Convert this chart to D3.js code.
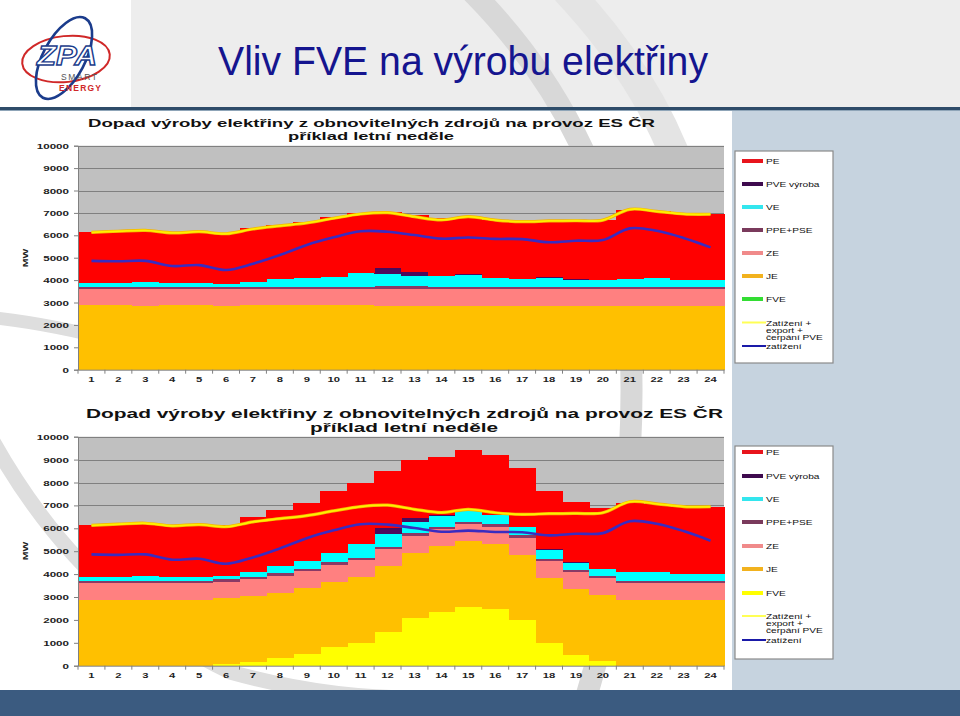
<!DOCTYPE html>
<html><head><meta charset="utf-8">
<script src="https://cdn.jsdelivr.net/npm/d3@7"></script>
<style>
body{margin:0;background:#fff}
svg{display:block}
text{font-family:"Liberation Sans",Arial,sans-serif}
</style>
</head><body>
<svg id="c" width="960" height="716"></svg>
<script>
// ---------------- data ----------------
const hours = [1,2,3,4,5,6,7,8,9,10,11,12,13,14,15,16,17,18,19,20,21,22,23,24];
const yTicks = [0,1000,2000,3000,4000,5000,6000,7000,8000,9000,10000];
const JE  = [2870,2870,2860,2870,2870,2860,2870,2870,2870,2870,2870,2860,2850,2850,2850,2850,2850,2850,2850,2850,2850,2850,2850,2850];
const ZE  = [730,740,740,730,740,740,740,740,740,740,740,750,750,750,750,740,740,740,740,740,740,740,740,740];
const PPE = [110,100,110,110,100,110,100,100,100,100,100,110,120,110,110,110,110,110,110,110,110,110,110,110];
const VE  = [150,160,190,150,160,130,200,320,370,410,590,560,470,470,520,390,370,380,310,290,370,400,320,290];
const PVE = [0,0,0,0,0,0,0,0,0,0,0,240,190,20,30,0,0,50,30,0,0,0,0,0];
const PE  = [2270,2290,2300,2260,2260,2250,2400,2430,2500,2710,2680,2500,2530,2560,2570,2610,2570,2510,2620,2680,3050,2970,2930,2940];
const FVE_top    = [0,0,0,0,0,0,0,0,0,0,0,0,0,0,0,0,0,0,0,0,0,0,0,0];
const FVE_bottom = [0,0,0,0,0,75,175,320,510,800,1000,1480,2070,2360,2580,2480,2000,980,480,220,0,0,0,0];
const zatizeniExport = [6130,6180,6220,6110,6160,6070,6280,6420,6550,6760,6950,7010,6830,6690,6830,6680,6610,6640,6650,6680,7160,7070,6950,6940];
const zatizeni       = [4860,4840,4860,4630,4670,4450,4730,5120,5570,5910,6180,6160,6010,5850,5900,5840,5830,5690,5760,5790,6310,6200,5880,5460];

const stackKeys   = ["FVE","JE","ZE","PPE","VE","PVE","PE"];
const legendKeys  = ["PE","PVE","VE","PPE","ZE","JE","FVE"];
const legendNames = {PE:"PE",PVE:"PVE výroba",VE:"VE",PPE:"PPE+PSE",ZE:"ZE",JE:"JE",FVE:"FVE"};
const lineNames   = [["Zatížení +","export +","čerpání PVE"],["zatížení"]];
const chartTitle1 = "Dopad výroby elektřiny z obnovitelných zdrojů na provoz ES ČR";
const chartTitle2 = "příklad letní neděle";
const pageTitle   = "Vliv FVE na výrobu elektřiny";

// ---------------- styles ----------------
const fillColors = {PE:"#FF0000",PVE:"#4B0A5C",VE:"#00FFFF",PPE:"#8A3A66",ZE:"#FF8080",JE:"#FFC000"};
const legendColors = {PE:"#E8141C",PVE:"#3E0A4E",VE:"#33E6EE",PPE:"#7A3A5C",ZE:"#F08A8A",JE:"#F2B21E"};

const svg = d3.select("#c");

function stretch(sel, f){
  sel.each(function(){
    const w = this.getComputedTextLength();
    d3.select(this).attr("textLength", w*f).attr("lengthAdjust","spacingAndGlyphs");
  });
}

// ---------------- background ----------------
svg.append("rect").attr("x",0).attr("y",0).attr("width",960).attr("height",716).attr("fill","#fff");
svg.append("rect").attr("x",131).attr("y",0).attr("width",829).attr("height",108).attr("fill","#EDEDED");
// watermark swooshes
const wm = svg.append("g").attr("fill","none");
wm.append("path").attr("d","M470,-10 Q600,120 628,300 Q645,520 580,716").attr("stroke","#D8D8D8").attr("stroke-width",22);
wm.append("path").attr("d","M566,-10 Q660,90 690,200").attr("stroke","#E4E4E4").attr("stroke-width",30);
wm.append("path").attr("d","M-10,436 Q80,600 230,672 Q330,700 430,698").attr("stroke","#DEDEDE").attr("stroke-width",15);
wm.append("path").attr("d","M-5,318 Q50,324 120,342").attr("stroke","#DEDEDE").attr("stroke-width",13);

// right panel
svg.append("rect").attr("x",732).attr("y",110).attr("width",228).attr("height",580).attr("fill","#C6D3DF");
// separator
svg.append("rect").attr("x",0).attr("y",107).attr("width",960).attr("height",3).attr("fill","#2E4C69");
svg.append("rect").attr("x",0).attr("y",110).attr("width",960).attr("height",1).attr("fill","#8FA5B8");
// bottom strip
svg.append("rect").attr("x",0).attr("y",690).attr("width",960).attr("height",26).attr("fill","#3B5B80");

// page title
svg.append("text").attr("x",218).attr("y",75).attr("font-size",40).attr("fill","#15158F")
  .attr("textLength",490).attr("lengthAdjust","spacingAndGlyphs").text(pageTitle);

// logo
const logo = svg.append("g");
logo.append("ellipse").attr("cx",66).attr("cy",59).attr("rx",44).attr("ry",23)
  .attr("transform","rotate(-6,66,59)").attr("fill","none").attr("stroke","#D02828").attr("stroke-width",2);
logo.append("ellipse").attr("cx",64).attr("cy",58).attr("rx",21).attr("ry",45)
  .attr("transform","rotate(28,64,58)").attr("fill","none").attr("stroke","#1B3C8C").attr("stroke-width",2.6);
logo.append("text").attr("x",67).attr("y",65).attr("text-anchor","middle").attr("font-size",27)
  .attr("font-style","italic").attr("font-weight","bold").attr("fill","#fff").attr("stroke","#1B3C8C").attr("stroke-width",1.3)
  .attr("textLength",60).attr("lengthAdjust","spacingAndGlyphs").text("ZPA");
logo.append("text").attr("x",79).attr("y",80).attr("text-anchor","middle").attr("font-size",8.5)
  .attr("fill","#555").attr("textLength",36).attr("lengthAdjust","spacing").text("SMART");
logo.append("text").attr("x",80).attr("y",91).attr("text-anchor","middle").attr("font-size",8.5).attr("font-weight","bold")
  .attr("fill","#D02828").attr("textLength",42).attr("lengthAdjust","spacing").text("ENERGY");

// ---------------- charts ----------------
const charts = [
  {y0:369.7, y1:145.7, fve:FVE_top, fveLegend:"#33DD33", fveFill:"#33CC33",
   t1:{y:127, w:567, cx:371.5, fs:10.5}, t2:{y:139.5, w:166, cx:371, fs:10.5},
   mwY:258, box:{x:735,y:151,w:98,h:212}, items:[161,184,207,230,253,276,299], lineY:[322.5,346]},
  {y0:665.7, y1:436.7, fve:FVE_bottom, fveLegend:"#FFFF00", fveFill:"#FFFF00",
   t1:{y:418, w:637, cx:404.5, fs:12}, t2:{y:432, w:188, cx:404, fs:12},
   mwY:551, box:{x:735,y:446,w:98,h:213}, items:[452,476,499,522,546,569,593], lineY:[616,640]}
];

charts.forEach(cfg => {
  const g = svg.append("g");
  const x = d3.scaleBand().domain(hours).range([78,724]).padding(0);
  const y = d3.scaleLinear().domain([0,10000]).range([cfg.y0, cfg.y1]);

  // titles
  g.append("text").attr("x",cfg.t1.cx).attr("y",cfg.t1.y).attr("text-anchor","middle")
    .attr("font-size",cfg.t1.fs).attr("font-weight","bold").attr("fill","#111")
    .attr("textLength",cfg.t1.w).attr("lengthAdjust","spacingAndGlyphs").text(chartTitle1);
  g.append("text").attr("x",cfg.t2.cx).attr("y",cfg.t2.y).attr("text-anchor","middle")
    .attr("font-size",cfg.t2.fs).attr("font-weight","bold").attr("fill","#111")
    .attr("textLength",cfg.t2.w).attr("lengthAdjust","spacingAndGlyphs").text(chartTitle2);

  // plot background
  g.append("rect").attr("x",78).attr("y",y(10000)).attr("width",646).attr("height",y(0)-y(10000)).attr("fill","#C0C0C0");
  // gridlines
  g.append("g").selectAll("line").data(yTicks.slice(1)).join("line")
    .attr("x1",78).attr("x2",724).attr("y1",d=>Math.round(y(d))+0.5).attr("y2",d=>Math.round(y(d))+0.5)
    .attr("stroke","#808080").attr("stroke-width",1);

  // stacked bars
  const rows = hours.map((h,i)=>({hour:h, FVE:cfg.fve[i], JE:JE[i], ZE:ZE[i], PPE:PPE[i], VE:VE[i], PVE:PVE[i], PE:PE[i]}));
  const layers = d3.stack().keys(stackKeys)(rows);
  const colors = Object.assign({}, fillColors, {FVE:cfg.fveFill});
  layers.forEach(layer => {
    g.append("g").attr("fill",colors[layer.key]).attr("shape-rendering","crispEdges")
      .selectAll("rect").data(layer).join("rect")
      .attr("x",d=>x(d.data.hour)).attr("width",x.bandwidth()+0.6)
      .attr("y",d=>y(d[1])).attr("height",d=>Math.max(0,y(d[0])-y(d[1])));
  });

  // lines
  const line = d3.line().x((d,i)=>x(hours[i])+x.bandwidth()/2).y(d=>y(d)).curve(d3.curveCatmullRom.alpha(0.5));
  g.append("path").datum(zatizeniExport).attr("d",line).attr("fill","none").attr("stroke","#F4B400").attr("stroke-width",3.2);
  g.append("path").datum(zatizeniExport).attr("d",line).attr("fill","none").attr("stroke","#FFF000").attr("stroke-width",1.8);
  g.append("path").datum(zatizeni).attr("d",line).attr("fill","none").attr("stroke","#3A2CC0").attr("stroke-width",2.6);

  // y axis
  const ya = g.append("g").attr("transform","translate(78,0)")
    .call(d3.axisLeft(y).tickValues(yTicks).tickSize(4).tickPadding(5).tickFormat(d3.format("d")));
  ya.select(".domain").attr("stroke","#808080");
  ya.selectAll(".tick line").attr("stroke","#808080");
  ya.selectAll("text").attr("font-size",8).attr("font-weight","bold").attr("fill","#222")
    .attr("font-family","'Liberation Sans',Arial,sans-serif").call(stretch,1.45);

  // x axis
  const xa = g.append("g").attr("transform",`translate(0,${cfg.y0})`)
    .call(d3.axisBottom(x).tickSize(0).tickPadding(7));
  xa.select(".domain").attr("stroke","#808080");
  xa.selectAll("text").attr("font-size",8).attr("font-weight","bold").attr("fill","#222")
    .attr("font-family","'Liberation Sans',Arial,sans-serif").call(stretch,1.4);
  g.append("g").selectAll("line").data(hours.concat([null])).join("line")
    .attr("x1",(d,i)=>i<24?x(d):x(24)+x.bandwidth()).attr("x2",(d,i)=>i<24?x(d):x(24)+x.bandwidth())
    .attr("y1",cfg.y0).attr("y2",cfg.y0+4).attr("stroke","#808080");

  // MW label
  g.append("text").attr("transform",`translate(28,${cfg.mwY}) rotate(-90)`).attr("text-anchor","middle")
    .attr("font-size",8).attr("font-weight","bold").attr("fill","#222").text("MW").call(stretch,1.3);

  // legend
  const lg = g.append("g");
  lg.append("rect").attr("x",cfg.box.x).attr("y",cfg.box.y).attr("width",cfg.box.w).attr("height",cfg.box.h)
    .attr("fill","#fff").attr("stroke","#8A8A8A").attr("stroke-width",1.2);
  const lcol = Object.assign({}, legendColors, {FVE:cfg.fveLegend});
  legendKeys.forEach((k,i) => {
    const yy = cfg.items[i];
    lg.append("line").attr("x1",742).attr("x2",763).attr("y1",yy).attr("y2",yy).attr("stroke",lcol[k]).attr("stroke-width",4);
    lg.append("text").attr("x",766).attr("y",yy+3).attr("font-size",7.5).attr("fill","#111").text(legendNames[k]).call(stretch,1.35);
  });
  lg.append("line").attr("x1",742).attr("x2",766).attr("y1",cfg.lineY[0]).attr("y2",cfg.lineY[0]).attr("stroke","#FFFF55").attr("stroke-width",2);
  lineNames[0].forEach((t,j)=>{
    lg.append("text").attr("x",766).attr("y",cfg.lineY[0]+3+j*7.2).attr("font-size",7.5).attr("fill","#111").text(t).call(stretch,1.35);
  });
  lg.append("line").attr("x1",742).attr("x2",766).attr("y1",cfg.lineY[1]).attr("y2",cfg.lineY[1]).attr("stroke","#1A1AA8").attr("stroke-width",2);
  lg.append("text").attr("x",766).attr("y",cfg.lineY[1]+3).attr("font-size",7.5).attr("fill","#111").text(lineNames[1][0]).call(stretch,1.35);
});
</script>
</body></html>
